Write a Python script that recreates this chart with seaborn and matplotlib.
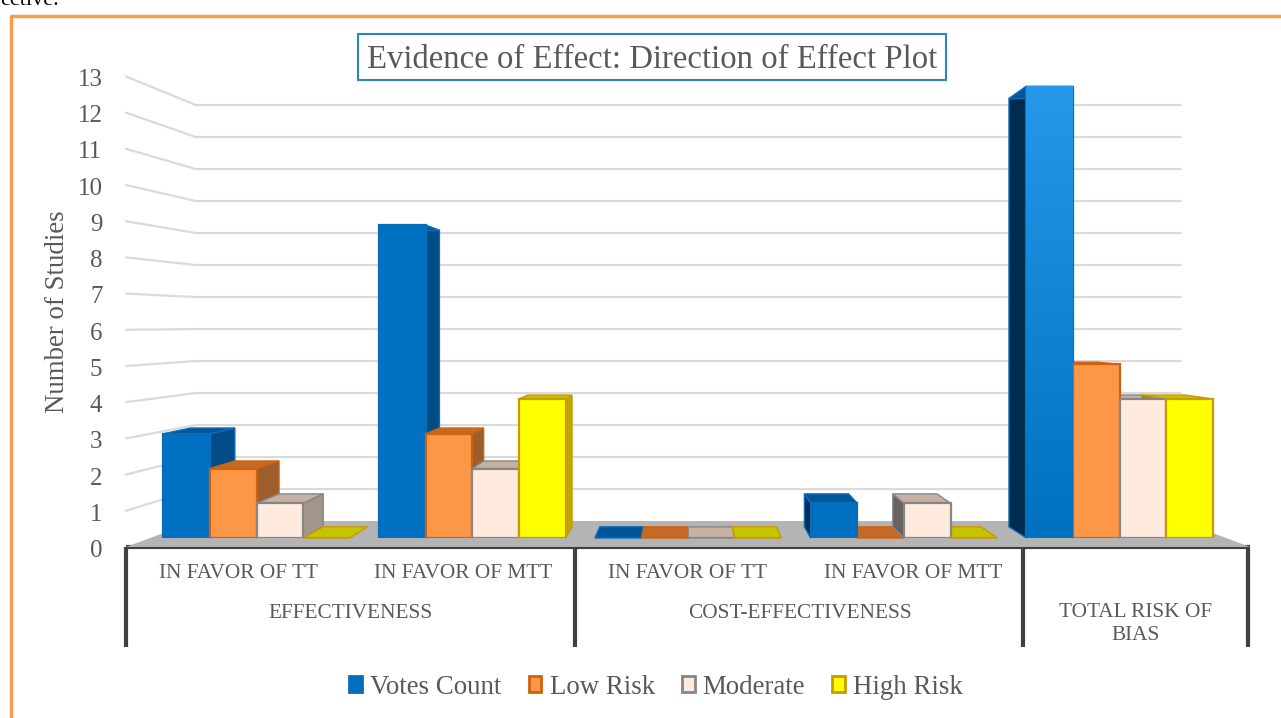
import matplotlib
matplotlib.use("Agg")
import matplotlib.pyplot as plt
import numpy as np
import pandas as pd
import seaborn as sns
from matplotlib.lines import Line2D
from matplotlib.patches import Patch, Polygon, Rectangle
from matplotlib.transforms import ScaledTranslation

# chart values
groups = ["TT effect", "MTT effect", "TT cost", "MTT cost", "Total RoB"]
sub_labels = ["IN FAVOR OF TT", "IN FAVOR OF MTT", "IN FAVOR OF TT", "IN FAVOR OF MTT"]
top_labels = ["EFFECTIVENESS", "COST-EFFECTIVENESS"]
last_label = "TOTAL RISK OF\nBIAS"
series = ["Votes Count", "Low Risk", "Moderate", "High Risk"]
votes_count = [3, 9, 0, 1, 13]
low_risk = [2, 3, 0, 0, 5]
moderate = [1, 2, 0, 1, 4]
high_risk = [0, 4, 0, 0, 4]
y_ticks = list(range(14))

# colours per series
face_colors = ["#0070C0", "#FC9747", "#FEEBDD", "#FFFF00"]
edge_colors = ["#0A6CB8", "#D0620F", "#868686", "#C79A00"]
right_colors = ["#004C87", "#9C5E2C", "#A2968A", "#BFA800"]
left_colors = ["#002C50", "#8A4E1E", "#67635E", "#9C8A00"]
top_colors = ["#00569B", "#C46A24", "#C5B2A2", "#C6C400"]

W, H = 1281, 718


def px(x, y):
    return x / W, 1 - y / H


sns.set_theme(style="white")
plt.rcParams["font.family"] = ["Liberation Serif", "DejaVu Sans"]
text_color = "#595959"

fig = plt.figure(figsize=(W / 100, H / 100), dpi=100, facecolor="white")

# front plane of the 3D box, only used for the axis labels
x0, y0 = px(126, 547)
x1, y1 = px(1250, 76)
ax_front = fig.add_axes([x0, y0, x1 - x0, y1 - y0], zorder=1)
ax_front.set_xlim(0, 5)
ax_front.set_ylim(0, 13)
ax_front.patch.set_visible(False)
sns.despine(ax=ax_front, left=True, bottom=True)
ax_front.set_xticks([])
ax_front.set_yticks(y_ticks)
ax_front.tick_params(axis="y", length=0, pad=22, labelsize=18, labelcolor=text_color)
shift = ScaledTranslation(7 / 100, -1.5 / 100, fig.dpi_scale_trans)
for label in ax_front.get_yticklabels():
    label.set_transform(label.get_transform() + shift)
ax_front.set_ylabel("Number of Studies", fontsize=19.4, color=text_color, labelpad=5)

# plane of the bar front faces
x0, y0 = px(148.6, 538)
x1, y1 = px(1227.6, 86.3)
ax = fig.add_axes([x0, y0, x1 - x0, y1 - y0], zorder=2)
ax.patch.set_visible(False)

df = pd.DataFrame({"group": groups, series[0]: votes_count, series[1]: low_risk,
                   series[2]: moderate, series[3]: high_risk})
df = df.melt(id_vars="group", var_name="series", value_name="value")
sns.barplot(data=df, x="group", y="value", hue="series", order=groups, hue_order=series,
            palette=face_colors, width=0.864, gap=0, saturation=1, legend=False,
            errorbar=None, ax=ax, zorder=5)
ax.set_xlim(-0.5, 4.5)
ax.set_ylim(0, 13)
ax.set_xticks([])
ax.set_yticks([])
ax.set_xlabel("")
ax.set_ylabel("")
sns.despine(ax=ax, left=True, bottom=True)

# simple perspective: vanishing point and depth scales relative to the bar faces
vx, vy = 2.009, 6.18
k_front, k_bar_back, k_wall, k_wall_x = 1.0417, 0.948, 0.921, 0.913


def project(x, y, k, kx=None):
    return vx + (x - vx) * (k if kx is None else kx), vy + (y - vy) * k


# floor
floor = [project(-0.5, 0, k_front), project(4.5, 0, k_front),
         project(4.5, 0, k_wall, k_wall_x), project(-0.5, 0, k_wall, k_wall_x)]
ax.add_patch(Polygon(floor, closed=True, fc="#B4B4B4", ec="none", clip_on=False, zorder=1))

# wall gridlines
for n in y_ticks[1:]:
    a = project(-0.5, n, k_front)
    b = project(-0.5, n, k_wall, k_wall_x)
    c = project(4.5, n, k_wall, k_wall_x)
    ax.add_line(Line2D([a[0], b[0], c[0]], [a[1], b[1], c[1]], color="#DADADA", lw=1.6,
                       clip_on=False, zorder=0.5))

# side and top faces, left to right so later bars cover earlier ones
for i_g in range(len(groups)):
    for i_s, cont in enumerate(ax.containers):
        bar = cont.patches[i_g]
        bx, bw, bh = bar.get_x(), bar.get_width(), bar.get_height()
        z = 2 + i_s * 0.1
        bar.set_edgecolor(edge_colors[i_s])
        bar.set_linewidth(1.6)
        if bx + bw < vx:
            side = [project(bx + bw, 0, 1), project(bx + bw, bh, 1),
                    project(bx + bw, bh, k_bar_back), project(bx + bw, 0, k_bar_back)]
            color = right_colors[i_s]
        else:
            side = [project(bx, 0, 1), project(bx, bh, 1),
                    project(bx, bh, k_bar_back), project(bx, 0, k_bar_back)]
            color = left_colors[i_s]
        if bh > 0:
            ax.add_patch(Polygon(side, closed=True, fc=color, ec=edge_colors[i_s], lw=1,
                                 clip_on=False, zorder=z))
        top = [project(bx, bh, 1), project(bx + bw, bh, 1),
               project(bx + bw, bh, k_bar_back), project(bx, bh, k_bar_back)]
        ax.add_patch(Polygon(top, closed=True, fc=top_colors[i_s], ec=edge_colors[i_s], lw=1,
                             clip_on=False, zorder=z + 0.05))

# the tallest bar has a light gradient in the reference
tall = ax.containers[0].patches[-1]
grad = np.linspace(0, 1, 100).reshape(-1, 1)
cmap = matplotlib.colors.LinearSegmentedColormap.from_list("b", ["#0070C0", "#2797EA"])
ax.imshow(grad, origin="lower", aspect="auto", cmap=cmap, zorder=6,
          extent=[tall.get_x(), tall.get_x() + tall.get_width(), 0, tall.get_height()])
ax.set_xlim(-0.5, 4.5)
ax.set_ylim(0, 13)

# two level category table under the floor
dark = "#404040"
line_kw = dict(color=dark, lw=3, clip_on=False, solid_capstyle="butt")
ax_front.plot([0, 5], [0, 0], **line_kw)
for x in [0, 1.997, 3.99, 4.99]:
    ax_front.plot([x, x], [0, -100 / 36.2], **line_kw)
for i, label in enumerate(sub_labels):
    ax_front.text(i + 0.5, -26 / 36.2, label, ha="center", va="center", fontsize=15.3,
                  color=text_color, clip_on=False)
for x, label in zip([1, 3], top_labels):
    ax_front.text(x, -66 / 36.2, label, ha="center", va="center", fontsize=15.3,
                  color=text_color, clip_on=False)
ax_front.text(4.49, -77 / 36.2, last_label, ha="center", va="center", fontsize=15.3,
              color=text_color, linespacing=1.3, clip_on=False)

# title box
x, y = px(358, 80)
fig.add_artist(Rectangle((x, y), 588 / W, 46 / H, transform=fig.transFigure, fc="white",
                         ec="#2E83C6", lw=1.5, zorder=5))
fig.text(*px(652, 60), "Evidence of Effect: Direction of Effect Plot", ha="center",
         va="center", fontsize=23.6, color=text_color, zorder=6)

# legend
handles = [Patch(fc=f, ec=e, lw=2, label=s) for f, e, s in zip(face_colors, edge_colors, series)]
fig.legend(handles=handles, loc="center", bbox_to_anchor=px(656, 687), ncol=4, frameon=False,
           fontsize=19.4, labelcolor=text_color, handlelength=0.48, handleheight=0.5,
           handletextpad=0.3, columnspacing=1.0)

# outer orange frame and the clipped text of the page above it
fig.add_artist(Line2D([px(11, 0)[0], px(11, 0)[0], 1], [0, px(0, 16)[1], px(0, 16)[1]],
                      color="#F79B4D", lw=2.5, transform=fig.transFigure))
fig.text(*px(0, 5), "ective.", ha="left", va="baseline", fontsize=16, color="black",
         family="Liberation Serif")

fig.savefig("out.png", dpi=100)
